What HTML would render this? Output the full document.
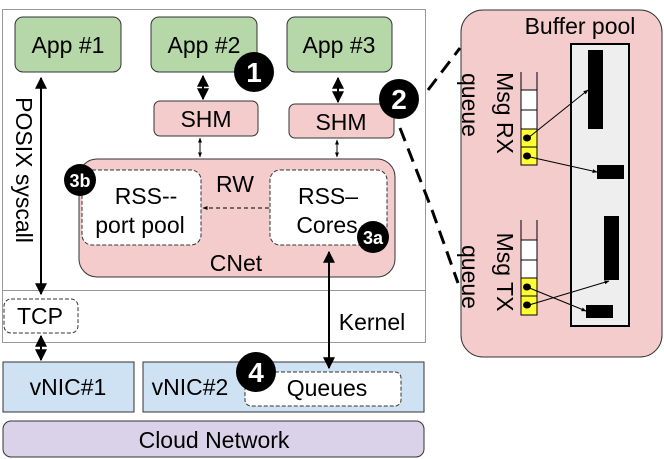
<!DOCTYPE html>
<html><head><style>body{margin:0;background:#fff}svg{display:block}text{font-family:"Liberation Sans",sans-serif}</style></head><body>
<svg width="664" height="459" viewBox="0 0 664 459" xmlns="http://www.w3.org/2000/svg">
<defs>
<marker id="a" viewBox="0 0 10 10" refX="9" refY="5" markerWidth="6" markerHeight="6" orient="auto-start-reverse"><path d="M0,0L10,5L0,10z" fill="#000"/></marker>
<marker id="s" viewBox="0 0 10 10" refX="9" refY="5" markerWidth="5" markerHeight="5" orient="auto-start-reverse"><path d="M0,1L10,5L0,9z" fill="#000"/></marker>
</defs>
<rect x="2.5" y="9.5" width="423" height="281" fill="#fff" stroke="#999"/>
<rect x="2.5" y="290.5" width="423" height="52" fill="#fff" stroke="#999"/>
<g font-size="23" text-anchor="middle">
<rect x="15" y="17" width="106" height="55" rx="8" fill="#b6d7a8" stroke="#333"/><text x="68" y="53">App #1</text>
<rect x="151" y="17" width="106" height="55" rx="8" fill="#b6d7a8" stroke="#333"/><text x="204" y="53">App #2</text>
<rect x="287" y="17" width="105" height="55" rx="8" fill="#b6d7a8" stroke="#333"/><text x="339" y="53">App #3</text>
<rect x="154" y="101" width="104" height="35" rx="6" fill="#f4cccc" stroke="#333"/><text x="206" y="127">SHM</text>
<rect x="289" y="104" width="105" height="34" rx="6" fill="#f4cccc" stroke="#333"/><text x="341" y="130">SHM</text>
<rect x="79" y="159" width="316" height="118" rx="18" fill="#f4cccc" stroke="#333"/>
<rect x="82" y="170" width="119" height="75" rx="10" fill="#fff" stroke="#333" stroke-dasharray="4,2"/>
<rect x="270" y="170" width="117" height="75" rx="10" fill="#fff" stroke="#333" stroke-dasharray="4,2"/>
<text x="235" y="192">RW</text><text x="236" y="271">CNet</text>
<text x="146" y="204">RSS--</text><text x="140" y="233">port pool</text>
<text x="328" y="204">RSS–</text><text x="327" y="233">Cores</text>
<rect x="4" y="299" width="74" height="34" rx="7" fill="#fff" stroke="#333" stroke-dasharray="4,2"/><text x="40" y="324">TCP</text>
<text x="372" y="330">Kernel</text>
<rect x="3" y="362" width="131" height="50" fill="#cfe2f3" stroke="#333"/><text x="68" y="395">vNIC#1</text>
<rect x="143" y="362" width="281" height="50" fill="#cfe2f3" stroke="#333"/><text x="190" y="395">vNIC#2</text>
<rect x="245" y="372" width="156" height="34" rx="6" fill="#fff" stroke="#333" stroke-dasharray="4,2"/><text x="327" y="396">Queues</text>
<rect x="3" y="421" width="421" height="36" rx="8" fill="#d9d2e9" stroke="#333"/><text x="214" y="448">Cloud Network</text>
</g>
<g stroke="#000">
<line x1="41" y1="78" x2="41" y2="294" stroke-width="2" marker-start="url(#a)" marker-end="url(#a)"/>
<line x1="41" y1="336" x2="41" y2="360" stroke-width="2" marker-start="url(#a)" marker-end="url(#a)"/>
<line x1="329" y1="252" x2="329" y2="368" stroke-width="2" marker-start="url(#a)" marker-end="url(#a)"/>
<line x1="203" y1="76" x2="203" y2="99" stroke-width="2" marker-start="url(#a)" marker-end="url(#a)"/>
<line x1="338" y1="78" x2="338" y2="102" stroke-width="2" marker-start="url(#a)" marker-end="url(#a)"/>
<line x1="200" y1="138" x2="200" y2="157" marker-start="url(#s)" marker-end="url(#s)"/>
<line x1="337" y1="140" x2="337" y2="157" marker-start="url(#s)" marker-end="url(#s)"/>
<line x1="269" y1="208" x2="203" y2="208" stroke-dasharray="4,3" marker-end="url(#s)"/>
<path d="M428,90L460,48M400,128L432,210L458,283" fill="none" stroke-width="3" stroke-dasharray="14,8"/>
</g>
<text transform="translate(16,170) rotate(90)" font-size="23" text-anchor="middle">POSIX syscall</text>
<rect x="461" y="10" width="201" height="347" rx="22" fill="#f4cccc" stroke="#333"/>
<text x="580" y="34" font-size="23" text-anchor="middle">Buffer pool</text>
<rect x="571" y="44" width="58" height="282" fill="#eee" stroke="#000" stroke-width="2"/>
<g fill="#000"><rect x="588" y="50" width="15" height="79"/><rect x="597" y="165" width="27" height="14"/><rect x="604" y="216" width="15" height="64"/><rect x="586" y="305" width="27" height="13"/></g>
<g stroke="#000">
<path d="M521,72V165M537,72V165" fill="none"/>
<rect x="521" y="90" width="16" height="20" fill="#fff"/><rect x="521" y="110" width="16" height="19" fill="#fff"/>
<rect x="521" y="129" width="16" height="18" fill="#ff3"/><rect x="521" y="147" width="16" height="18" fill="#ff3"/>
<path d="M521,220V315M537,220V315" fill="none"/>
<rect x="521" y="240" width="16" height="20" fill="#fff"/><rect x="521" y="260" width="16" height="18" fill="#fff"/>
<rect x="521" y="278" width="16" height="18" fill="#ff3"/><rect x="521" y="296" width="16" height="19" fill="#ff3"/>
<line x1="528" y1="138" x2="588" y2="90" marker-end="url(#s)"/>
<line x1="530" y1="157" x2="597" y2="172" marker-end="url(#s)"/>
<line x1="527" y1="287" x2="586" y2="311" marker-end="url(#s)"/>
<line x1="529" y1="305" x2="609" y2="281" marker-end="url(#s)"/>
</g>
<g fill="#000"><ellipse cx="527" cy="138" rx="4" ry="3.5"/><ellipse cx="527" cy="156" rx="4" ry="3.5"/><ellipse cx="527" cy="287" rx="4" ry="3.5"/><ellipse cx="527" cy="305" rx="4" ry="3.5"/></g>
<g font-size="23" text-anchor="middle">
<text transform="translate(497,113) rotate(90)">Msg RX</text>
<text transform="translate(462,105) rotate(90)">queue</text>
<text transform="translate(497,272) rotate(90)">Msg TX</text>
<text transform="translate(462,277) rotate(90)">queue</text>
</g>
<g fill="#000"><circle cx="254" cy="72" r="20"/><circle cx="399" cy="99" r="20"/><circle cx="80" cy="180" r="16"/><circle cx="373" cy="237" r="16"/><circle cx="256" cy="372" r="20"/></g>
<g fill="#fff" font-weight="bold" text-anchor="middle">
<text x="254" y="82" font-size="28">1</text><text x="399" y="109" font-size="28">2</text>
<text x="80" y="187" font-size="18">3b</text><text x="373" y="244" font-size="18">3a</text>
<text x="256" y="382" font-size="28">4</text></g>
</svg>
</body></html>
